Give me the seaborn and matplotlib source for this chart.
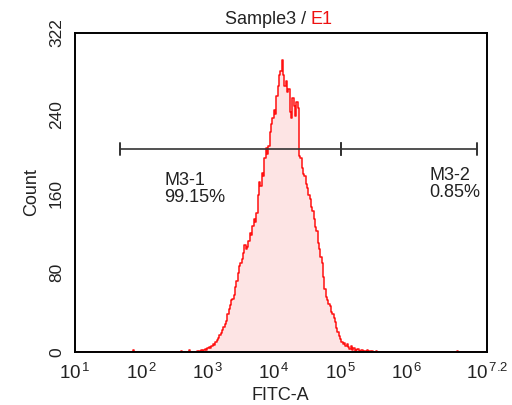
import numpy as np
import pandas as pd
import matplotlib
matplotlib.use("Agg")
import matplotlib.pyplot as plt
import seaborn as sns

# ---------------- data ----------------
main_logs = [round(2.80 + 0.02 * i, 2) for i in range(141)]
main_counts = [
    0, 0, 1, 0, 1, 2, 1, 2, 3, 2,
    4, 5, 4, 6, 8, 7, 10, 12, 14, 17,
    19, 22, 25, 28, 31, 38, 43, 47, 52, 54,
    58, 66, 72, 80, 87, 90, 94, 100, 108, 104,
    106, 112, 120, 118, 127, 134, 131, 140, 158, 172,
    168, 181, 178, 196, 206, 200, 208, 222, 230, 236,
    244, 240, 258, 268, 280, 284, 295, 280, 268, 274,
    262, 265, 242, 236, 256, 248, 238, 252, 246, 198,
    196, 186, 180, 178, 170, 166, 158, 154, 146, 142,
    134, 126, 122, 110, 104, 96, 90, 76, 64, 56,
    52, 48, 46, 40, 38, 34, 30, 24, 20, 16,
    13, 10, 8, 9, 6, 8, 5, 3, 6, 2,
    4, 1, 2, 3, 1, 0, 2, 1, 0, 1,
    2, 0, 1, 0, 1, 0, 0, 1, 0, 0, 0,
]
low_logs = [1.00, 1.86, 1.88, 1.90, 2.58, 2.60, 2.62, 2.70, 2.72, 2.74]
low_counts = [0, 0, 2, 0, 0, 1, 0, 0, 2, 0]
high_logs = [5.62, 6.74, 6.76, 6.78, 7.20]
high_counts = [0, 0, 1, 0, 0]

y_ticks = [0, 80, 160, 240, 322]
x_tick_exps = ["1", "2", "3", "4", "5", "6", "7.2"]
x_tick_vals = [1, 2, 3, 4, 5, 6, 7.2]

gate1 = (1.68, 5.0)
gate2 = (5.0, 7.05)
gate_y = 205
gate1_label = "M3-1\n99.15%"
gate2_label = "M3-2\n0.85%"
gate1_text_pos = (2.34, 165)
gate2_text_pos = (6.33, 170)

# ---------------- plot ----------------
sns.set_theme(style="white")
plt.rcParams["font.family"] = ["Liberation Sans", "DejaVu Sans"]
plt.rcParams["mathtext.fontset"] = "custom"
plt.rcParams["mathtext.rm"] = "Liberation Sans"
plt.rcParams["mathtext.it"] = "Liberation Sans"

logs = low_logs + main_logs + high_logs
counts = low_counts + main_counts + high_counts
df = pd.DataFrame({"x": np.power(10.0, logs), "count": counts})

fig = plt.figure(figsize=(5.12, 4.05), dpi=100)
ax = fig.add_axes([75 / 512, 1 - 352 / 405, (487 - 75) / 512, (352 - 33) / 405])

ax.fill_between(df["x"], df["count"], step="mid", color="#fde4e4", lw=0)
sns.lineplot(data=df, x="x", y="count", ax=ax, color="#ff1010", lw=1.1,
             drawstyle="steps-mid", estimator=None)

ax.set_xscale("log")
ax.set_xlim(10 ** 1, 10 ** 7.2)
ax.set_ylim(0, 322)

ax.set_xticks([10 ** v for v in x_tick_vals])
ax.set_xticklabels([r"$\mathregular{10^{\,%s}}$" % e for e in x_tick_exps], fontsize=13.5,
                   color="#222222")
ax.xaxis.set_minor_locator(matplotlib.ticker.LogLocator(base=10, subs=np.arange(2, 10)))
ax.xaxis.set_minor_formatter(matplotlib.ticker.NullFormatter())

ax.set_yticks(y_ticks)
ax.set_yticklabels([str(v) for v in y_ticks], rotation=90, va="center", fontsize=12.5,
                   color="#222222")
ax.yaxis.set_minor_locator(matplotlib.ticker.FixedLocator([20, 40, 60, 100, 120, 140, 180, 200, 220, 260, 280, 300, 320]))

ax.tick_params(axis="both", which="major", direction="out", length=5, width=1.2, color="black", pad=3)
ax.tick_params(axis="x", which="minor", direction="in", length=3, width=0.8, color="#333333")
ax.tick_params(axis="y", which="minor", direction="out", length=3, width=0.8, color="#333333")
ax.tick_params(axis="x", which="major", pad=3)

for s in ax.spines.values():
    s.set_visible(True)
    s.set_color("black")
    s.set_linewidth(1.4)

ax.set_xlabel("")
ax.set_ylabel("Count", fontsize=13, labelpad=6, color="#222222")
fig.text(280 / 512, 1 - 396 / 405, "FITC-A", ha="center", va="center", fontsize=13, color="#222222")
ax.grid(False)

# gates
gc = "#333333"
for (a, b) in (gate1, gate2):
    ax.plot([10 ** a, 10 ** b], [gate_y, gate_y], color=gc, lw=1.2)
    for v in (a, b):
        ax.plot([10 ** v, 10 ** v], [gate_y - 6, gate_y + 6], color=gc, lw=1.4)

ax.text(10 ** gate1_text_pos[0], gate1_text_pos[1], gate1_label, fontsize=13,
        ha="left", va="center", color="#222222", linespacing=1.0)
ax.text(10 ** gate2_text_pos[0], gate2_text_pos[1], gate2_label, fontsize=13,
        ha="left", va="center", color="#222222", linespacing=1.0)

# title
fig.text(306 / 512, 1 - 19 / 405, "Sample3 /", ha="right", va="center", fontsize=13, color="#222222")
fig.text(310 / 512, 1 - 19 / 405, "E1", ha="left", va="center", fontsize=13, color="#ee1111")

fig.savefig("out.png", dpi=100)
